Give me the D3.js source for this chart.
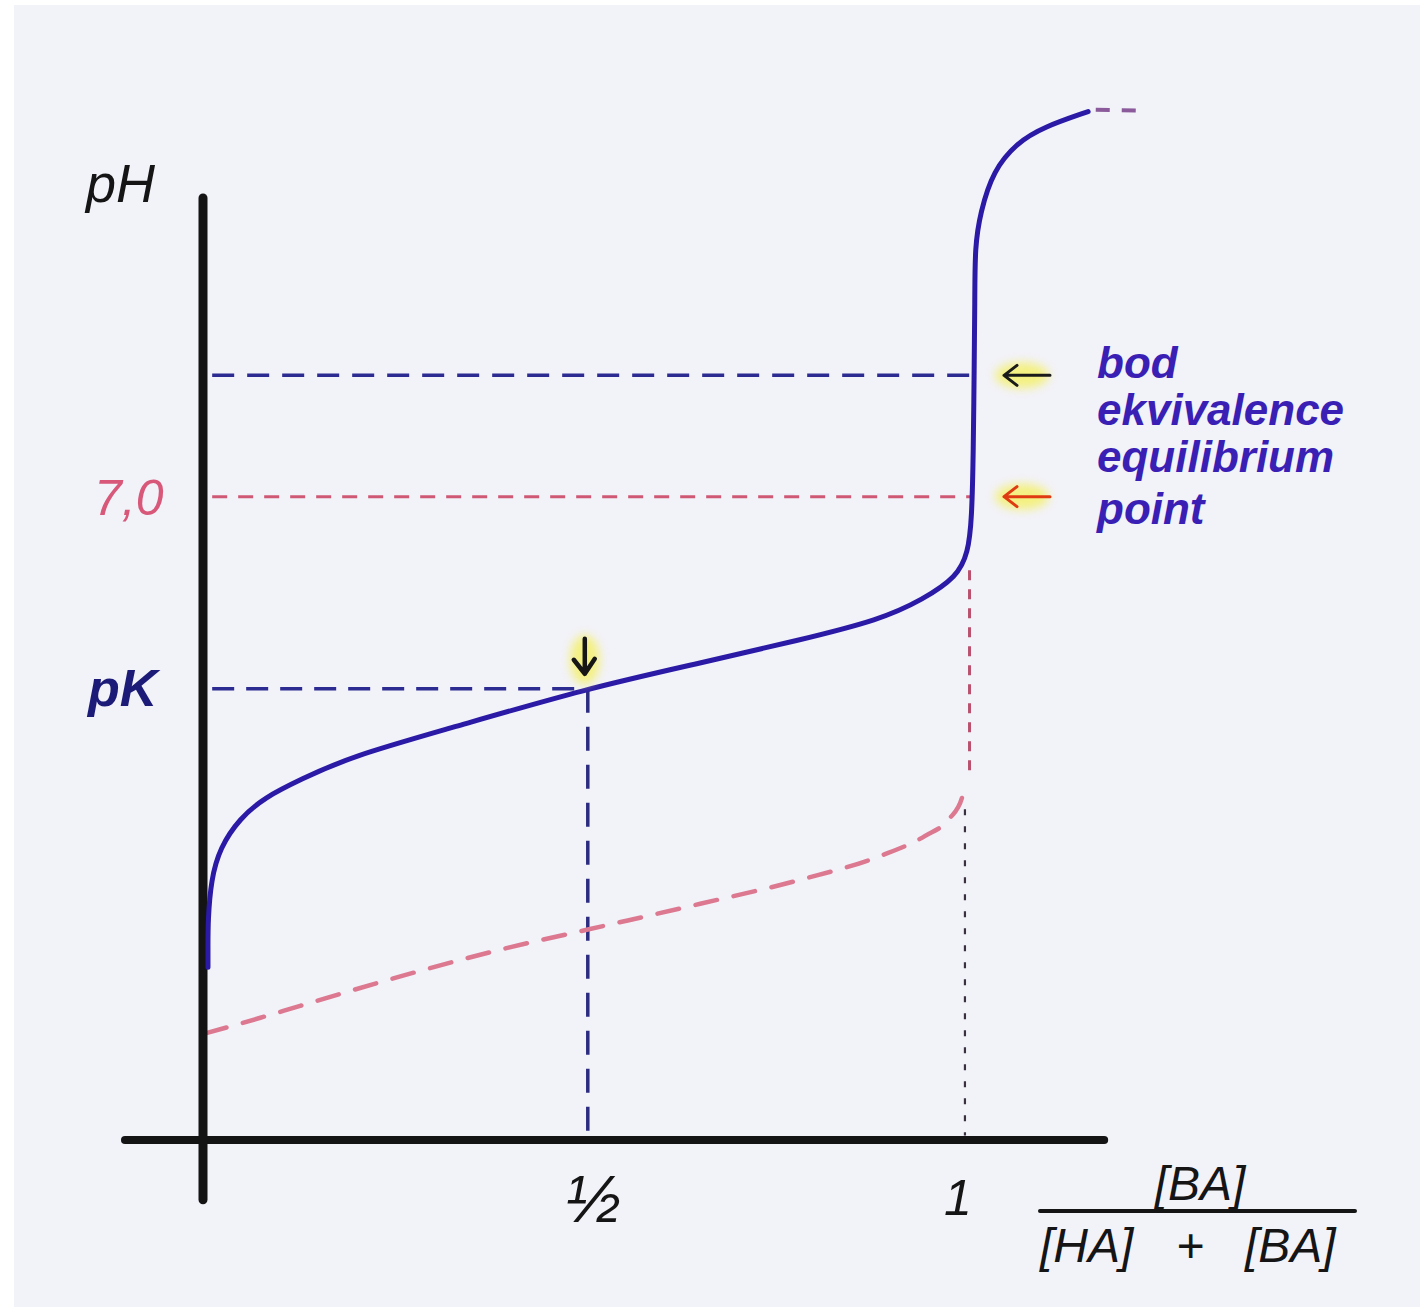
<!DOCTYPE html>
<html>
<head>
<meta charset="utf-8">
<script src="https://cdn.jsdelivr.net/npm/d3@7"></script>
<style>
  html, body { margin: 0; padding: 0; background: #ffffff; }
  svg { display: block; }
</style>
</head>
<body>
<svg id="chart" width="1420" height="1307"></svg>
<script>
// ---------- DATA ----------
// x = [BA]/([HA]+[BA]) fraction, y = pH
const titrationX  = [0.0065, 0.0065, 0.0065, 0.0105, 0.022, 0.048, 0.081, 0.127, 0.192, 0.323, 0.50, 0.65, 0.78, 0.885, 0.941, 0.986, 1.000, 1.005, 1.007, 1.008, 1.009, 1.009, 1.016, 1.033, 1.064, 1.098, 1.157];
const titrationPH = [1.88, 2.10, 2.39, 2.83, 3.18, 3.50, 3.73, 3.92, 4.17, 4.48, 4.91, 5.19, 5.44, 5.66, 5.88, 6.13, 6.39, 6.75, 7.51, 8.35, 9.14, 9.72, 10.09, 10.55, 10.85, 11.02, 11.19];
const tailX  = [1.167, 1.225];
const tailPH = [11.21, 11.20];
const strongX  = [0.003, 0.075, 0.127, 0.258, 0.388, 0.503, 0.65, 0.78, 0.885, 0.944, 0.976, 0.992, 0.997];
const strongPH = [1.16, 1.33, 1.46, 1.78, 2.07, 2.29, 2.57, 2.83, 3.09, 3.31, 3.50, 3.72, 3.90];
const equivPH = 8.32;   // bod ekvivalence
const neutralPH = 7.0;  // 7,0
const pK = 4.91;
const halfX = 0.503;
const equivX = 0.999;
const yTickLabels = ["pH", "7,0", "pK"];
const xTickLabels = ["½", "1"];
const rightLabels = ["bod", "ekvivalence", "equilibrium", "point"];
const fracNum = "[BA]";
const fracDen = ["[HA]", "+", "[BA]"];

// ---------- SCALES ----------
const x = d3.scaleLinear().domain([0, 1]).range([203, 968]);
const y = d3.scaleLinear().domain([0, 10.25]).range([1140, 198]);

const svg = d3.select("#chart");

svg.append("rect").attr("x", 0).attr("y", 0).attr("width", 1420).attr("height", 1307).attr("fill", "#ffffff");
svg.append("rect").attr("x", 14).attr("y", 5).attr("width", 1406).attr("height", 1302).attr("fill", "#f2f2f9");

const defs = svg.append("defs");
const glow = defs.append("filter").attr("id", "glow").attr("x", "-50%").attr("y", "-50%").attr("width", "200%").attr("height", "200%");
glow.append("feGaussianBlur").attr("stdDeviation", 5);

const line = d3.line().x(d => x(d[0])).y(d => y(d[1]));
const smoothB = d3.line().x(d => x(d[0])).y(d => y(d[1])).curve(d3.curveBasis);
const smoothX = d3.line().x(d => x(d[0])).y(d => y(d[1])).curve(d3.curveMonotoneX);

// ---------- REFERENCE LINES ----------
svg.append("path").attr("d", line([[0.012, equivPH], [1.007, equivPH]]))
  .attr("stroke", "#2b2b92").attr("stroke-width", 3.5).attr("fill", "none")
  .attr("stroke-dasharray", "22,13");
svg.append("path").attr("d", line([[0.012, neutralPH], [1.004, neutralPH]]))
  .attr("stroke", "#cf5874").attr("stroke-width", 3).attr("fill", "none")
  .attr("stroke-dasharray", "15,11");
svg.append("path").attr("d", line([[0.012, pK], [halfX - 0.005, pK]]))
  .attr("stroke", "#2b2b92").attr("stroke-width", 3.5).attr("fill", "none")
  .attr("stroke-dasharray", "22,12");
svg.append("path").attr("d", line([[halfX, pK], [halfX, 0.05]]))
  .attr("stroke", "#2b2b80").attr("stroke-width", 3.5).attr("fill", "none")
  .attr("stroke-dasharray", "24,14");
svg.append("path").attr("d", line([[equivX + 0.003, 6.2], [equivX + 0.003, 4.0]]))
  .attr("stroke", "#b8506e").attr("stroke-width", 3).attr("fill", "none")
  .attr("stroke-dasharray", "10,9");
svg.append("path").attr("d", line([[equivX - 0.003, 3.6], [equivX - 0.003, 0.05]]))
  .attr("stroke", "#3a3040").attr("stroke-width", 2.2).attr("fill", "none")
  .attr("stroke-dasharray", "6,11");

svg.append("path").attr("d", smoothX(strongX.map((v, i) => [v, strongPH[i]])))
  .attr("stroke", "#dc7890").attr("stroke-width", 4.5).attr("fill", "none")
  .attr("stroke-dasharray", "22,17").attr("stroke-linecap", "round");

// ---------- AXES ----------
svg.append("path").attr("d", line([[0, 10.25], [0, -0.65]]))
  .attr("stroke", "#141414").attr("stroke-width", 9).attr("stroke-linecap", "round").attr("fill", "none");
svg.append("path").attr("d", line([[-0.102, 0], [1.178, 0]]))
  .attr("stroke", "#141414").attr("stroke-width", 8).attr("stroke-linecap", "round").attr("fill", "none");

// ---------- TITRATION CURVE ----------
svg.append("path").attr("d", smoothB(titrationX.map((v, i) => [v, titrationPH[i]])))
  .attr("stroke", "#2a1aa6").attr("stroke-width", 5).attr("fill", "none").attr("stroke-linecap", "round");
svg.append("path").attr("d", line(tailX.map((v, i) => [v, tailPH[i]])))
  .attr("stroke", "#8a5a9a").attr("stroke-width", 4).attr("fill", "none")
  .attr("stroke-dasharray", "14,12");

// ---------- ARROWS WITH HIGHLIGHT ----------
function highlight(cx, cy, rx, ry) {
  svg.append("ellipse").attr("cx", cx).attr("cy", cy).attr("rx", rx).attr("ry", ry)
    .attr("fill", "#f4f05a").attr("opacity", 0.75).attr("filter", "url(#glow)");
}
const ax = x(halfX) - 3, ayTop = y(pK) - 50, ayTip = y(pK) - 15;
highlight(ax, ayTip - 14, 15, 25);
svg.append("path").attr("d", `M${ax},${ayTop} L${ax},${ayTip} M${ax - 11},${ayTip - 14} L${ax},${ayTip} L${ax + 10},${ayTip - 15}`)
  .attr("stroke", "#161616").attr("stroke-width", 4.5).attr("fill", "none").attr("stroke-linecap", "round").attr("stroke-linejoin", "round");
const arrX0 = 1004, arrX1 = 1050;
highlight(1022, y(equivPH), 27, 13);
svg.append("path").attr("d", `M${arrX1},${y(equivPH)} L${arrX0},${y(equivPH)} M${arrX0 + 13},${y(equivPH) - 10} L${arrX0},${y(equivPH)} L${arrX0 + 13},${y(equivPH) + 10}`)
  .attr("stroke", "#1a1a1a").attr("stroke-width", 3).attr("fill", "none").attr("stroke-linecap", "round").attr("stroke-linejoin", "round");
highlight(1022, y(neutralPH), 27, 13);
svg.append("path").attr("d", `M${arrX1},${y(neutralPH)} L${arrX0},${y(neutralPH)} M${arrX0 + 13},${y(neutralPH) - 10} L${arrX0},${y(neutralPH)} L${arrX0 + 13},${y(neutralPH) + 10}`)
  .attr("stroke", "#e03a12").attr("stroke-width", 3).attr("fill", "none").attr("stroke-linecap", "round").attr("stroke-linejoin", "round");

// ---------- TEXT ----------
const hand = "'Liberation Sans', 'DejaVu Sans', sans-serif";
svg.append("text").text(yTickLabels[0]).attr("x", 86).attr("y", 202)
  .attr("font-family", hand).attr("font-style", "italic").attr("font-size", 54).attr("fill", "#151515");
svg.append("text").text(yTickLabels[1]).attr("x", 94).attr("y", y(neutralPH) + 18)
  .attr("font-family", hand).attr("font-style", "italic").attr("font-size", 50).attr("fill", "#d8587a");
svg.append("text").text(yTickLabels[2]).attr("x", 88).attr("y", y(pK) + 17)
  .attr("font-family", hand).attr("font-style", "italic").attr("font-weight", "bold").attr("font-size", 52).attr("fill", "#1c1c78");

svg.append("text").text(xTickLabels[0]).attr("x", x(0.5) + 8).attr("y", 1222).attr("text-anchor", "middle")
  .attr("font-family", hand).attr("font-style", "italic").attr("font-size", 66).attr("fill", "#151515");
svg.append("text").text(xTickLabels[1]).attr("x", x(1) - 10).attr("y", 1215).attr("text-anchor", "middle")
  .attr("font-family", hand).attr("font-style", "italic").attr("font-size", 50).attr("fill", "#151515");

svg.append("text").text(fracNum).attr("x", 1200).attr("y", 1200).attr("text-anchor", "middle")
  .attr("font-family", hand).attr("font-style", "italic").attr("font-size", 48).attr("fill", "#151515");
svg.append("line").attr("x1", 1040).attr("x2", 1355).attr("y1", 1211).attr("y2", 1211)
  .attr("stroke", "#151515").attr("stroke-width", 4).attr("stroke-linecap", "round");
const den = svg.append("text").attr("y", 1262)
  .attr("font-family", hand).attr("font-style", "italic").attr("font-size", 48).attr("fill", "#151515");
const denX = [1040, 1176, 1245];
fracDen.forEach((t, i) => {
  den.append("tspan").attr("x", denX[i]).text(i < 2 ? t + " " : t);
});

const rightY = [378, 425, 472, 524];
rightLabels.forEach((t, i) => {
  svg.append("text").text(t).attr("x", 1097).attr("y", rightY[i])
    .attr("font-family", hand).attr("font-style", "italic").attr("font-weight", "bold")
    .attr("font-size", 44).attr("fill", "#3a1fb5");
});
</script>
</body>
</html>
